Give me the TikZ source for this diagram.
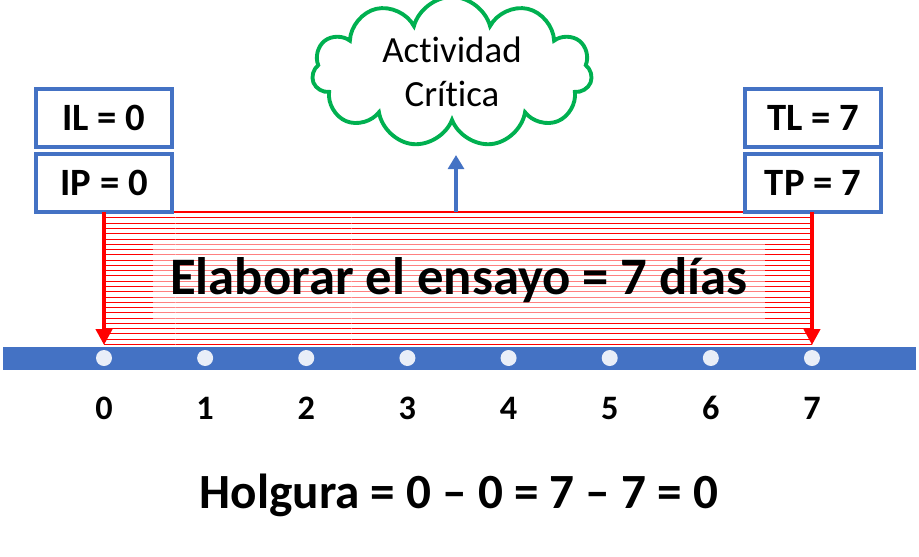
\documentclass[tikz,border=0pt]{standalone}
\usepackage{fontspec}
\setmainfont{Carlito}[Ligatures=CommonOff]
\usetikzlibrary{shapes.symbols,patterns,arrows.meta}
\definecolor{tblue}{HTML}{4472C4}
\definecolor{tgreen}{HTML}{00B050}
\definecolor{tdot}{HTML}{E9EEF8}
\tikzset{
  valbox/.style={draw=tblue,line width=2.2pt,minimum width=2.72cm,minimum height=1.16cm,font=\fontsize{22}{26}\selectfont\bfseries},
  daynum/.style={font=\fontsize{19.5}{22}\selectfont\bfseries},
  redarrow/.style={draw=red,line width=2.4pt,-{Triangle[length=9pt,width=9pt]}}
}
\begin{document}
\begin{tikzpicture}[x=0.02cm,y=-0.02cm]
\useasboundingbox (0,0) rectangle (919,556);
% hatched activity bar
\fill[pattern=horizontal lines,pattern color=red] (104,212) rectangle (812,345);
\draw[red,line width=0.6pt] (104,212) -- (812,212);
\node[fill=white,fill opacity=0.5,text opacity=1,minimum width=12.24cm,minimum height=1.54cm,font=\fontsize{30}{34}\selectfont\bfseries] (act) at (459,280) {Elaborar el ensayo = 7 días};
% time line
\fill[tblue] (3,347) rectangle (916,370);
\foreach \i in {0,...,7}{
  \node[circle,fill=tdot,inner sep=0pt,minimum size=0.32cm] (d\i) at ({104+101.14*\i},358) {};
  \node[daynum] (n\i) at ({104+101.14*\i},408) {\i};
}
\node[valbox] (il) at (104,118) {IL = 0};
\node[valbox] (ip) at (104,183) {IP = 0};
\node[valbox] (tl) at (813,118) {TL = 7};
\node[valbox] (tp) at (813,183) {TP = 7};
\node[cloud,cloud puffs=11,aspect=2.6,draw=tgreen,line width=2.2pt,inner sep=0pt,minimum width=5.6cm,minimum height=2.2cm,align=center,font=\fontsize{21}{25}\selectfont] (crit) at (452,72) {Actividad\\Crítica};
\coordinate (top) at (456,212);
\coordinate (tip) at (456,155);
\coordinate (l0) at (104,212);
\coordinate (l1) at (104,345);
\coordinate (r0) at (812,212);
\coordinate (r1) at (812,345);
\draw[redarrow] (l0) -- (l1);
\draw[redarrow] (r0) -- (r1);
\draw[tblue,line width=2.2pt,-{Triangle[length=8pt,width=9pt]}] (top) -- (tip);
\node[font=\fontsize{28}{32}\selectfont\bfseries] (hol) at (459,495) {Holgura = 0 – 0 = 7 – 7 = 0};
\end{tikzpicture}
\end{document}
